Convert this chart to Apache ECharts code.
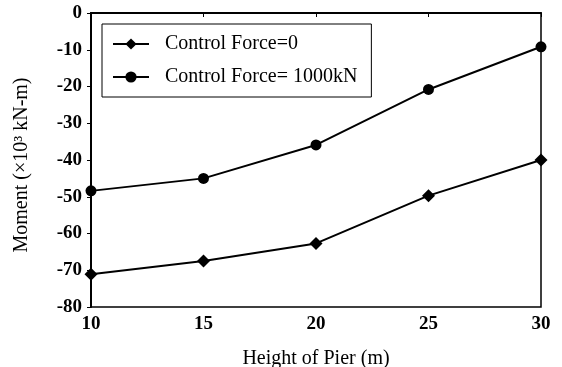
<!DOCTYPE html>
<html>
<head>
<meta charset="utf-8">
<script src="https://cdn.jsdelivr.net/npm/echarts@6/dist/echarts.min.js"></script>
<style>
  html, body { margin: 0; padding: 0; background: #fff; }
  #chart { width: 562px; height: 367px; }
</style>
</head>
<body>
<div id="chart"></div>
<script>
// pier heights (m)
const heights = [10, 15, 20, 25, 30]
// moment, x10^3 kN-m
const forceZero = [-71.1, -67.5, -62.7, -49.7, -40.0]
const force1000 = [-48.4, -45.0, -35.9, -20.8, -9.2]
const seriesNames = ['Control Force=0', 'Control Force= 1000kN']

const font = '"Liberation Serif", "Times New Roman", serif'
const chart = echarts.init(document.getElementById('chart'))

const toPairs = (vals) => heights.map((h, i) => [h, vals[i]])

const option = {
  backgroundColor: '#fff',
  animation: false,
  grid: {
    left: 91,
    right: 21,
    top: 13,
    bottom: 60,
    outerBoundsMode: 'none',
    show: true,
    borderColor: '#000',
    borderWidth: 1.5,
  },
  legend: {
    orient: 'vertical',
    left: 102,
    top: 24,
    padding: [10, 14, 10, 10],
    itemGap: 13,
    itemWidth: 36,
    itemHeight: 14,
    backgroundColor: '#fff',
    borderColor: '#000',
    borderWidth: 1,
    textStyle: {
      fontFamily: font,
      fontSize: 20,
      color: '#000',
      padding: [0, 0, 0, 11],
    },
    data: seriesNames,
  },
  xAxis: {
    type: 'value',
    min: 10,
    max: 30,
    interval: 5,
    name: 'Height of Pier (m)',
    nameLocation: 'middle',
    nameGap: 42,
    nameTextStyle: { fontFamily: font, fontSize: 20, color: '#000' },
    axisLine: { show: true, lineStyle: { color: '#000', width: 2 } },
    axisTick: { show: true, length: 4, lineStyle: { color: '#000', width: 1 } },
    axisLabel: { fontFamily: font, fontSize: 19, fontWeight: 'bold', color: '#000', margin: 8 },
    splitLine: { show: false },
  },
  yAxis: {
    type: 'value',
    min: -80,
    max: 0,
    interval: 10,
    name: 'Moment (×10³ kN-m)',
    nameLocation: 'middle',
    nameGap: 59,
    nameTextStyle: { fontFamily: font, fontSize: 20, color: '#000', padding: [0, 10, 0, 0] },
    axisLine: { show: true, lineStyle: { color: '#000', width: 2 } },
    axisTick: { show: true, length: 4, lineStyle: { color: '#000', width: 1 } },
    axisLabel: { fontFamily: font, fontSize: 19, fontWeight: 'bold', color: '#000', margin: 9 },
    splitLine: { show: false },
  },
  series: [
    {
      name: seriesNames[0],
      type: 'line',
      data: toPairs(forceZero),
      symbol: 'diamond',
      symbolSize: 13,
      lineStyle: { color: '#000', width: 2 },
      itemStyle: { color: '#000' },
    },
    {
      name: seriesNames[1],
      type: 'line',
      data: toPairs(force1000),
      symbol: 'circle',
      symbolSize: 11,
      lineStyle: { color: '#000', width: 2 },
      itemStyle: { color: '#000' },
    },
  ],
}

chart.setOption(option)
</script>
</body>
</html>
